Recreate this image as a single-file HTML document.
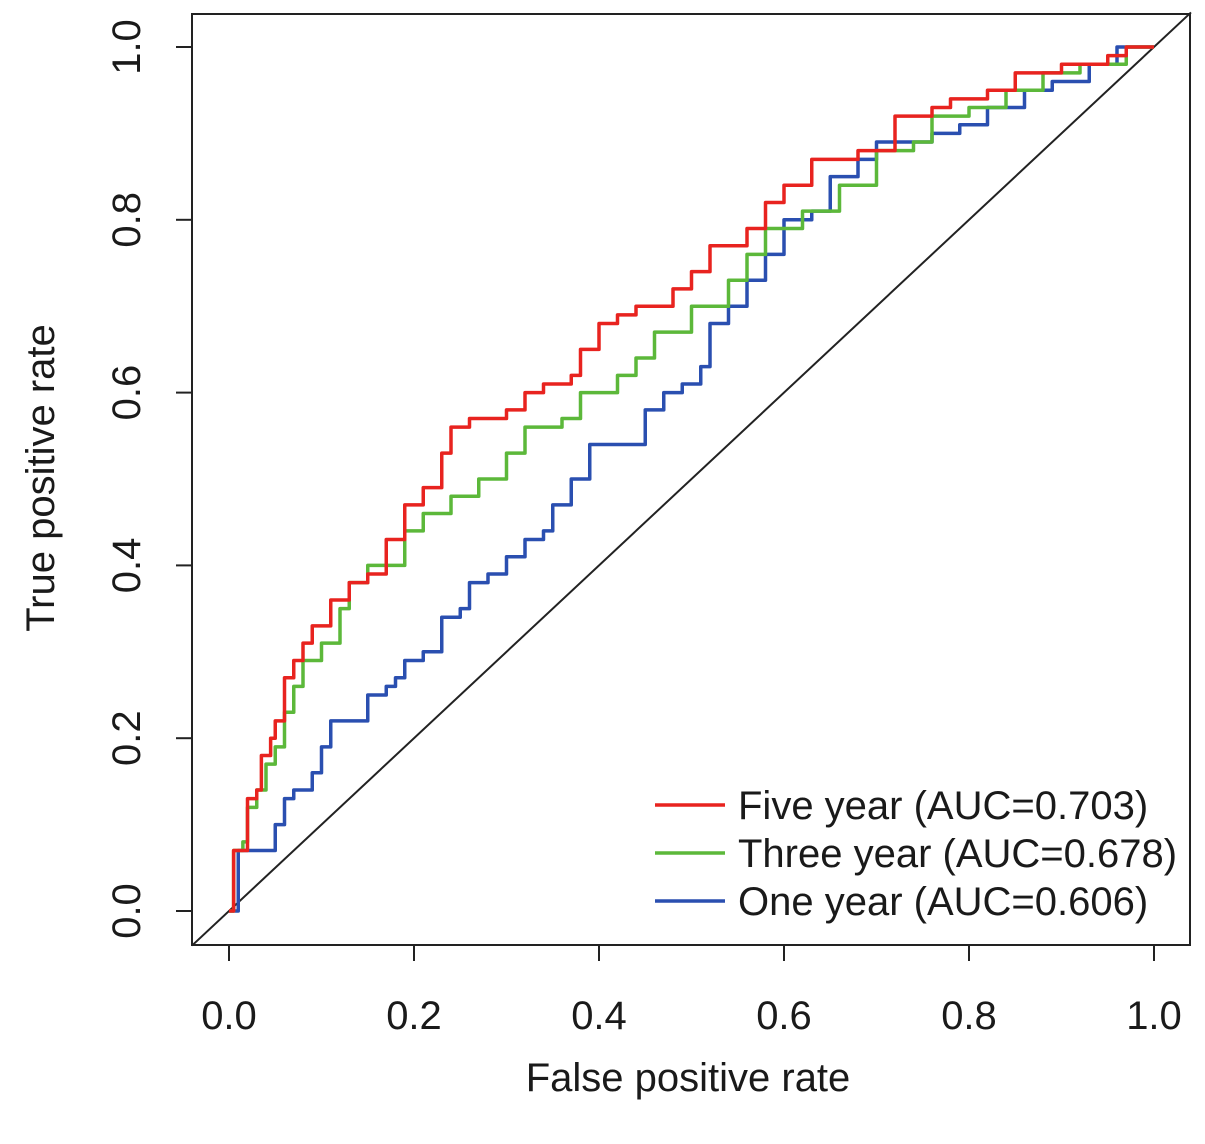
<!DOCTYPE html>
<html><head><meta charset="utf-8"><style>
body{margin:0;background:#fff;}
svg text{font-family:"Liberation Sans",Arial,sans-serif;fill:#1a1a1a;}
</style></head><body>
<svg width="1205" height="1139" xmlns="http://www.w3.org/2000/svg">
<rect x="192" y="14" width="998" height="931" fill="none" stroke="#222" stroke-width="2"/>
<g id="axes"></g>
<g id="series"></g>
<g>
<line x1="655" y1="805" x2="725" y2="805" stroke="#e8231f" stroke-width="3.5"/>
<text x="738" y="819" font-size="40">Five year (AUC=0.703)</text>
<line x1="655" y1="853" x2="725" y2="853" stroke="#5cb83a" stroke-width="3.5"/>
<text x="738" y="867" font-size="40">Three year (AUC=0.678)</text>
<line x1="655" y1="901" x2="725" y2="901" stroke="#2a4fb0" stroke-width="3.5"/>
<text x="738" y="915" font-size="40">One year (AUC=0.606)</text>
</g>
<text x="688" y="1091" font-size="40" text-anchor="middle">False positive rate</text>
<text transform="translate(54,478) rotate(-90)" font-size="40" text-anchor="middle">True positive rate</text>
</svg>
<script>
const ticks=[0,0.2,0.4,0.6,0.8,1.0];
const tickLabels=["0.0","0.2","0.4","0.6","0.8","1.0"];
const fiveFpr=[0,0.005,0.015,0.02,0.03,0.035,0.045,0.05,0.06,0.07,0.08,0.09,0.1,0.11,0.13,0.15,0.17,0.19,0.21,0.23,0.24,0.26,0.3,0.32,0.34,0.37,0.38,0.4,0.42,0.44,0.48,0.5,0.52,0.56,0.58,0.6,0.63,0.68,0.72,0.76,0.78,0.82,0.85,0.9,0.95,0.97,1];
const fiveTpr=[0,0.07,0.07,0.13,0.14,0.18,0.2,0.22,0.27,0.29,0.31,0.33,0.33,0.36,0.38,0.39,0.43,0.47,0.49,0.53,0.56,0.57,0.58,0.6,0.61,0.62,0.65,0.68,0.69,0.7,0.72,0.74,0.77,0.79,0.82,0.84,0.87,0.88,0.92,0.93,0.94,0.95,0.97,0.98,0.99,1,1];
const threeFpr=[0,0.005,0.015,0.02,0.03,0.04,0.05,0.06,0.07,0.08,0.1,0.12,0.13,0.15,0.17,0.19,0.21,0.24,0.27,0.3,0.32,0.36,0.38,0.42,0.44,0.46,0.5,0.54,0.56,0.58,0.6,0.62,0.66,0.7,0.74,0.76,0.8,0.84,0.88,0.92,0.97,1];
const threeTpr=[0,0.07,0.08,0.12,0.14,0.17,0.19,0.23,0.26,0.29,0.31,0.35,0.38,0.4,0.4,0.44,0.46,0.48,0.5,0.53,0.56,0.57,0.6,0.62,0.64,0.67,0.7,0.73,0.76,0.79,0.79,0.81,0.84,0.88,0.89,0.92,0.93,0.95,0.97,0.98,1,1];
const oneFpr=[0,0.01,0.04,0.05,0.06,0.07,0.08,0.09,0.1,0.11,0.13,0.15,0.17,0.18,0.19,0.21,0.23,0.25,0.26,0.28,0.3,0.32,0.34,0.35,0.37,0.39,0.43,0.45,0.47,0.49,0.51,0.52,0.54,0.56,0.58,0.6,0.63,0.65,0.68,0.7,0.73,0.76,0.79,0.82,0.86,0.89,0.93,0.96,1];
const oneTpr=[0,0.07,0.07,0.1,0.13,0.14,0.14,0.16,0.19,0.22,0.22,0.25,0.26,0.27,0.29,0.3,0.34,0.35,0.38,0.39,0.41,0.43,0.44,0.47,0.5,0.54,0.54,0.58,0.6,0.61,0.63,0.68,0.7,0.73,0.76,0.8,0.81,0.85,0.87,0.89,0.89,0.9,0.91,0.93,0.95,0.96,0.98,1,1];
const X=v=>229+v*925, Y=v=>911-v*864;
const NS="http://www.w3.org/2000/svg";
const axes=document.getElementById('axes'), ser=document.getElementById('series');
function mk(tag,attrs,parent){const e=document.createElementNS(NS,tag);for(const k in attrs)e.setAttribute(k,attrs[k]);parent.appendChild(e);return e;}
const xl=mk('line',{x1:X(0),x2:X(1),y1:945,y2:945,stroke:'#222','stroke-width':2},axes);


const yl=mk('line',{x1:192,x2:192,y1:Y(0),y2:Y(1),stroke:'#222','stroke-width':2},axes);


ticks.forEach((t,i)=>{
 const a=mk('line',{x1:X(t),x2:X(t),y1:945,y2:961,stroke:'#222','stroke-width':2},axes);
 
 
 const b=mk('text',{x:X(t),y:1029,'font-size':40,'text-anchor':'middle'},axes);b.textContent=tickLabels[i];
 
 
 const c=mk('line',{x1:176,x2:192,y1:Y(t),y2:Y(t),stroke:'#222','stroke-width':2},axes);
 
 
 const d=mk('text',{transform:`translate(140,${Y(t)}) rotate(-90)`,'font-size':40,'text-anchor':'middle'},axes);d.textContent=tickLabels[i];
 
 
});
const diag=mk('line',{x1:X(-0.04),y1:Y(-0.04),x2:X(1.04),y2:Y(1.04),stroke:'#222','stroke-width':2},ser);


function draw(xs,ys,color,name){
 let d='M'+X(xs[0])+','+Y(ys[0]);
 for(let i=1;i<xs.length;i++){d+=' L'+X(xs[i])+','+Y(ys[i-1])+' L'+X(xs[i])+','+Y(ys[i]);}
 const p=mk('path',{d:d,fill:'none',stroke:color,'stroke-width':3.5,'stroke-linejoin':'round'},ser);
 
 
}
draw(oneFpr,oneTpr,'#2a4fb0','one-year-curve');
draw(threeFpr,threeTpr,'#5cb83a','three-year-curve');
draw(fiveFpr,fiveTpr,'#e8231f','five-year-curve');
</script>
</body></html>
